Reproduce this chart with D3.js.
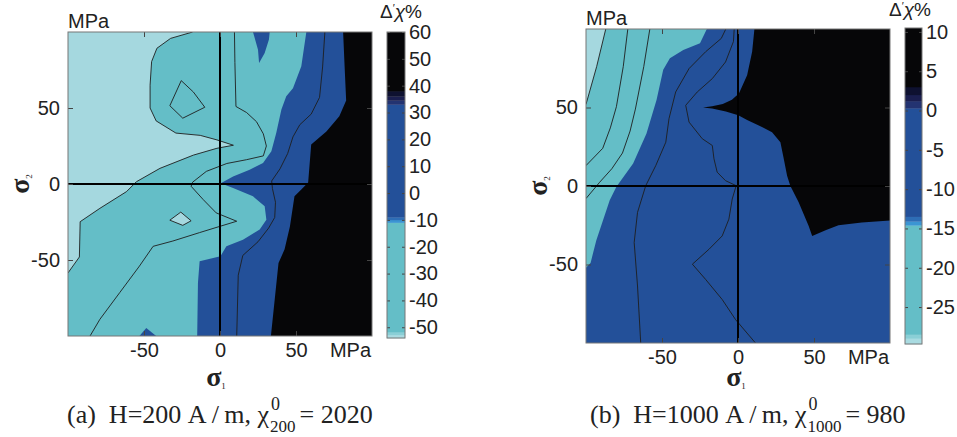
<!DOCTYPE html>
<html>
<head>
<meta charset="utf-8">
<script src="https://cdn.jsdelivr.net/npm/d3@7"></script>
<style>
  body { margin: 0; background: #fff; }
  svg text { font-family: "Liberation Sans", Arial, sans-serif; fill: #222; }
  svg text.serif { font-family: "Liberation Serif", "Times New Roman", serif; }
</style>
</head>
<body>
<div id="chart"></div>
<script>
// stress axes (MPa), both panels
const sigmaTicks = [-50, 0, 50];

// ---- panel (a): H=200 A/m ----
const levelsA = [-50, -30, -10, 10, 30];
const lineLevelsA = [-50, -30, 10];
const cbTicksA = [60, 50, 40, 30, 20, 10, 0, -10, -20, -30, -40, -50];
const cbBreaksA = [-54, -52.8, -51.8, -11, -10, -9, 33, 34.5, 36, 38, 60];

const a_m50 = [[-18,100],[-32.5,95.8],[-41.5,89.3],[-45,80.5],[-46,65],[-46,50],[-42,41.5],[-29,33.5],[-13,32],[-2,29],[8.8,25.5],[-2,23.5],[-17.5,19],[-39.5,10.3],[-55,1.5],[-61.5,-5],[-79,-16],[-92,-24.8],[-92.5,-48],[-100,-58.5]];
const a_m30 = [[9.5,100],[9.8,80],[10.5,51],[17.5,47],[24,41],[28.5,33],[30.5,25],[28.5,18.5],[17.5,16],[4.5,13.5],[-9,8.3],[-18,1.2],[-19,-1.5],[-11,-10.3],[-2.5,-19],[11,-24.5],[-0.5,-28],[-13.5,-32],[-31,-37.5],[-44,-41],[-53,-54],[-66,-71.5],[-79,-89],[-85.5,-100]];
const a_triUp = [[-25.5,68],[-33,51.5],[-24.5,43.3],[-10,50.5],[-17.5,60.5]];
const a_triLow = [[-25.8,-18.5],[-33,-23.8],[-24.5,-27.2],[-19,-24.2]];
const a_m10 = [[56.8,100],[53.5,77.5],[48,63],[43.6,57.7],[40.4,49],[37,33.6],[33.8,21.5],[28.3,13.8],[19.5,9.4],[8.6,5],[0.5,0.5],[8.6,-2.6],[21.7,-8.1],[29.4,-14.7],[30.5,-23.5],[26.1,-30],[15.1,-36.6],[4.2,-41],[0.3,-47.5],[-13.4,-50.9],[-14.5,-65],[-15,-100]];
const a_islandTop = [[21.7,100],[25,88.4],[25.7,79.6],[29.4,86.2],[32.2,95],[32.7,100]];
const a_islandBot = [[-42,-100],[-48.5,-94.7],[-53,-100]];
const a_p10 = [[69,100],[67.5,77],[65.5,57],[60,46],[52.5,39],[48,31],[44.5,20],[39.5,10],[34,2],[34.5,-3],[36.5,-12],[36,-22],[32,-29],[25,-38],[15,-47],[12,-60],[11,-100]];
const a_p30 = [[81,100],[82,77],[83,55],[78.5,44.5],[70,34.5],[60,26],[58,1],[53.5,-3.7],[49,-8],[46,-28],[42.5,-43],[38.5,-52],[36,-76],[33.5,-100]];

// ---- panel (b): H=1000 A/m ----
const levelsB = [-28, -25, -20, -15, -10, -5, 0];
const lineLevelsB = [-28, -25, -20, -10, -5];
const cbTicksB = [10, 5, 0, -5, -10, -15, -20, -25];
const cbBreaksB = [-29.7, -29, -28.5, -14.6, -14.1, -13.5, 0.3, 1.2, 2, 3, 10.5];

const b_m28 = [[-87,100],[-93,76],[-100,52]];
const b_m25 = [[-72.5,100],[-75.5,76],[-80,50.5],[-84,37],[-89,24],[-100,13]];
const b_m20 = [[-58,100],[-62,76],[-67.5,49],[-71,35],[-76,21],[-83,11],[-91,2.4],[-100,-8]];
const b_m15 = [[-20.5,100],[-25,91],[-36,86.6],[-44.8,81.3],[-49.2,74],[-53.6,54.7],[-60.2,33.5],[-69,14.4],[-80,-0.5],[-84.4,-9],[-88.8,-21.8],[-93.2,-34.5],[-97,-49],[-100,-52]];
const b_m10 = [[-8,100],[-11,94],[-21.3,85.5],[-32.2,74.8],[-41,59.9],[-45.4,42.9],[-47.5,27.9],[-54.1,13],[-60.7,0.2],[-66.1,-16.8],[-68.3,-36],[-66.1,-63.7],[-64,-100]];
const b_m5 = [[-2.5,100],[-3,92],[-8.2,79],[-16.9,68.4],[-26.8,59.9],[-34.4,51.4],[-32.2,40.7],[-23.5,30.1],[-16.9,25.8],[-15.8,17.3],[-13.7,8.8],[-8.2,3.4],[-1.2,0.2],[-3.8,-8.3],[-6,-21.1],[-10.4,-31.8],[-19.1,-40.3],[-30,-49.8],[-21.3,-59.5],[-10.4,-72.3],[-1.6,-85.1],[11.5,-100]];
const b_p0 = [[10.8,100],[9.3,85.5],[6,70.6],[0.6,58.9],[-4,55],[-10,52.3],[-17,50.8],[-23,50],[-17,49.4],[-8,47.5],[0.2,45],[6,42],[13.7,38.6],[22.4,34.3],[27.9,27.9],[30.1,17.3],[32.3,6.6],[34.4,0.2],[39.9,-10.4],[46.5,-25.4],[48.8,-31.8],[58,-28],[66.1,-25],[81.4,-23.2],[100,-22]];

// colours
const LIGHT = "#a5d8df", CYAN = "#64bec7", BLUE = "#235099", BLACK = "#060608";
const cbColors = ["#a9dbe1", "#8acfd6", CYAN, "#3b95d3", "#2e6db5", BLUE, "#233371", "#1a1e4f", "#0e1130", BLACK];

const svg = d3.select("#chart").append("svg")
  .attr("width", 957)
  .attr("height", 437);

// close an edge-to-edge contour by walking the box corners counter-clockwise
const boxCorners = [[-100,100],[100,100],[100,-100],[-100,-100]];
function perim(p) {
  const e = 1e-6;
  if (p[1] >= 100 - e) return (p[0] + 100) / 200;
  if (p[0] >= 100 - e) return 1 + (100 - p[1]) / 200;
  if (p[1] <= -100 + e) return 2 + (100 - p[0]) / 200;
  return 3 + (p[1] + 100) / 200;
}
function closeAlongBox(pts) {
  const t0 = perim(pts[0]);
  const t1 = perim(pts[pts.length - 1]);
  let target = t0;
  if (target > t1) target -= 4;
  const out = pts.slice();
  for (let c = Math.ceil(t1) - 1; c > target; c--) {
    out.push(boxCorners[((c % 4) + 4) % 4]);
  }
  return out;
}

const fmt = (d) => String(d);

function styleAxis(ax) {
  ax.select(".domain").remove();
  ax.attr("font-size", 20).attr("font-family", "'Liberation Sans', Arial, sans-serif");
  ax.selectAll("line").attr("stroke", "#444");
  ax.selectAll("text").attr("fill", "#222");
}

function drawPanel(p) {
  const x = d3.scaleLinear().domain([-100, 100]).range([p.left, p.right]);
  const y = d3.scaleLinear().domain([-100, 100]).range([p.bottom, p.top]);
  const line = d3.line().x((d) => x(d[0])).y((d) => y(d[1]));
  const g = svg.append("g");

  g.append("clipPath").attr("id", "clip-" + p.id)
    .append("rect")
    .attr("x", p.left).attr("y", p.top)
    .attr("width", p.right - p.left).attr("height", p.bottom - p.top);

  const area = g.append("g").attr("clip-path", `url(#clip-${p.id})`);
  area.append("rect")
    .attr("x", p.left).attr("y", p.top)
    .attr("width", p.right - p.left).attr("height", p.bottom - p.top)
    .attr("fill", p.bands[0]);

  // filled bands
  p.contours.forEach((c) => {
    const i = p.levels.indexOf(c.level);
    const ring = c.closed ? c.pts : closeAlongBox(c.pts);
    area.append("path")
      .attr("d", line(ring) + "Z")
      .attr("fill", p.bands[c.up ? i + 1 : i]);
  });

  // contour lines
  p.contours.filter((c) => p.lineLevels.includes(c.level)).forEach((c) => {
    area.append("path")
      .attr("d", line(c.pts) + (c.closed ? "Z" : ""))
      .attr("fill", "none")
      .attr("stroke", "#1e1e1e")
      .attr("stroke-width", 0.9);
  });

  // zero lines
  area.append("line")
    .attr("x1", x(0)).attr("x2", x(0)).attr("y1", p.top).attr("y2", p.bottom)
    .attr("stroke", "#000").attr("stroke-width", 2);
  area.append("line")
    .attr("x1", p.left).attr("x2", p.right).attr("y1", y(0)).attr("y2", y(0))
    .attr("stroke", "#000").attr("stroke-width", 2);

  // axes with inward ticks
  styleAxis(g.append("g").attr("transform", `translate(0,${p.bottom})`)
    .call(d3.axisBottom(x).tickValues(sigmaTicks).tickSize(-5).tickPadding(6.5).tickFormat(fmt)));
  styleAxis(g.append("g").attr("transform", `translate(0,${p.top})`)
    .call(d3.axisTop(x).tickValues(sigmaTicks).tickSize(-5).tickFormat("")));
  styleAxis(g.append("g").attr("transform", `translate(${p.left},0)`)
    .call(d3.axisLeft(y).tickValues(sigmaTicks).tickSize(-5).tickPadding(8).tickFormat(fmt)));
  styleAxis(g.append("g").attr("transform", `translate(${p.right},0)`)
    .call(d3.axisRight(y).tickValues(sigmaTicks).tickSize(-5).tickFormat("")));

  g.append("rect")
    .attr("x", p.left).attr("y", p.top)
    .attr("width", p.right - p.left).attr("height", p.bottom - p.top)
    .attr("fill", "none").attr("stroke", "#777").attr("stroke-width", 1);

  // unit labels
  g.append("text").attr("x", p.left).attr("y", p.top - 4)
    .style("font-size", "20px").text("MPa");
  g.append("text").attr("x", p.right - 1).attr("y", p.bottom + 21)
    .attr("text-anchor", "end").style("font-size", "20px").text("MPa");

  // sigma labels
  const s1 = g.append("text").attr("class", "serif")
    .attr("x", p.sx).attr("y", 386).attr("text-anchor", "middle")
    .style("font-size", "28px").style("font-weight", "bold");
  s1.append("tspan").text("σ");
  s1.append("tspan").attr("dy", 3).style("font-size", "9px").style("font-weight", "normal").text("1");

  const s2 = g.append("text").attr("class", "serif")
    .attr("transform", `translate(${p.sy},${(p.top + p.bottom) / 2}) rotate(-90)`)
    .attr("text-anchor", "middle")
    .style("font-size", "28px").style("font-weight", "bold");
  s2.append("tspan").text("σ");
  s2.append("tspan").attr("dy", 3).style("font-size", "9px").style("font-weight", "normal").text("2");

  // colour bar
  const cb = p.cb;
  const cy = d3.scaleLinear().domain([p.cbBreaks[0], p.cbBreaks[p.cbBreaks.length - 1]]).range([cb.bottom, cb.top]);
  const segs = d3.range(p.cbBreaks.length - 1).map((i) => [p.cbBreaks[i], p.cbBreaks[i + 1], cbColors[i]]);
  g.append("g").selectAll("rect")
    .data(segs)
    .join("rect")
    .attr("x", cb.left)
    .attr("width", cb.right - cb.left)
    .attr("y", (d) => cy(d[1]))
    .attr("height", (d) => cy(d[0]) - cy(d[1]) + 0.3)
    .attr("fill", (d) => d[2]);
  styleAxis(g.append("g").attr("transform", `translate(${cb.right},0)`)
    .call(d3.axisRight(cy).tickValues(p.cbTicks).tickSize(-3).tickPadding(4).tickFormat(fmt)));
  styleAxis(g.append("g").attr("transform", `translate(${cb.left},0)`)
    .call(d3.axisLeft(cy).tickValues(p.cbTicks).tickSize(-3).tickFormat("")));
  g.append("rect")
    .attr("x", cb.left).attr("y", cb.top)
    .attr("width", cb.right - cb.left).attr("height", cb.bottom - cb.top)
    .attr("fill", "none").attr("stroke", "#777").attr("stroke-width", 1);

  const cl = g.append("text")
    .attr("x", p.cbLabelX).attr("y", p.cbLabelY).attr("text-anchor", "middle")
    .style("font-size", "19px");
  cl.append("tspan").text("Δ");
  cl.append("tspan").attr("dy", -6).style("font-size", "11px").text("′");
  cl.append("tspan").attr("dy", 6).attr("class", "serif").style("font-style", "italic").text("χ");
  cl.append("tspan").text("%");

  // caption
  const cap = g.append("text").attr("class", "serif")
    .attr("x", p.capX).attr("y", 423).style("font-size", "26px")
    .text(`(${p.id})\u00a0\u00a0H=${p.H}\u00a0A\u2009/\u2009m,\u00a0χ`);
  const w = cap.node().getComputedTextLength();
  g.append("text").attr("class", "serif")
    .attr("x", p.capX + w + 2).attr("y", 410).style("font-size", "18px").text("0");
  const sub = g.append("text").attr("class", "serif")
    .attr("x", p.capX + w + 1).attr("y", 432).style("font-size", "17px").text(p.H);
  const ws = sub.node().getComputedTextLength();
  g.append("text").attr("class", "serif")
    .attr("x", p.capX + w + ws + 5).attr("y", 423).style("font-size", "26px")
    .text(`=\u00a0${p.chi}`);
}

drawPanel({
  id: "a", H: "200", chi: "2020",
  left: 68, right: 372, top: 32, bottom: 336,
  cb: { left: 387, right: 405, top: 32, bottom: 338 },
  cbBreaks: cbBreaksA, cbTicks: cbTicksA, cbLabelX: 401, cbLabelY: 18,
  levels: levelsA, lineLevels: lineLevelsA,
  bands: [LIGHT, CYAN, CYAN, BLUE, BLUE, BLACK],
  sx: 216, sy: 29, capX: 67,
  contours: [
    { level: -50, up: true, pts: a_m50 },
    { level: -30, up: true, pts: a_m30 },
    { level: -30, up: true, pts: a_triUp, closed: true },
    { level: -50, up: false, pts: a_triLow, closed: true },
    { level: -10, up: true, pts: a_m10 },
    { level: -10, up: true, pts: a_islandTop, closed: true },
    { level: -10, up: true, pts: a_islandBot, closed: true },
    { level: 10, up: true, pts: a_p10 },
    { level: 30, up: true, pts: a_p30 }
  ]
});

drawPanel({
  id: "b", H: "1000", chi: "980",
  left: 586, right: 890, top: 29, bottom: 343,
  cb: { left: 905, right: 922, top: 28, bottom: 344 },
  cbBreaks: cbBreaksB, cbTicks: cbTicksB, cbLabelX: 910, cbLabelY: 16,
  levels: levelsB, lineLevels: lineLevelsB,
  bands: [LIGHT, CYAN, CYAN, CYAN, BLUE, BLUE, BLUE, BLACK],
  sx: 736, sy: 547, capX: 590,
  contours: [
    { level: -28, up: true, pts: b_m28 },
    { level: -25, up: true, pts: b_m25 },
    { level: -20, up: true, pts: b_m20 },
    { level: -15, up: true, pts: b_m15 },
    { level: -10, up: true, pts: b_m10 },
    { level: -5, up: true, pts: b_m5 },
    { level: 0, up: true, pts: b_p0 }
  ]
});
</script>
</body>
</html>
